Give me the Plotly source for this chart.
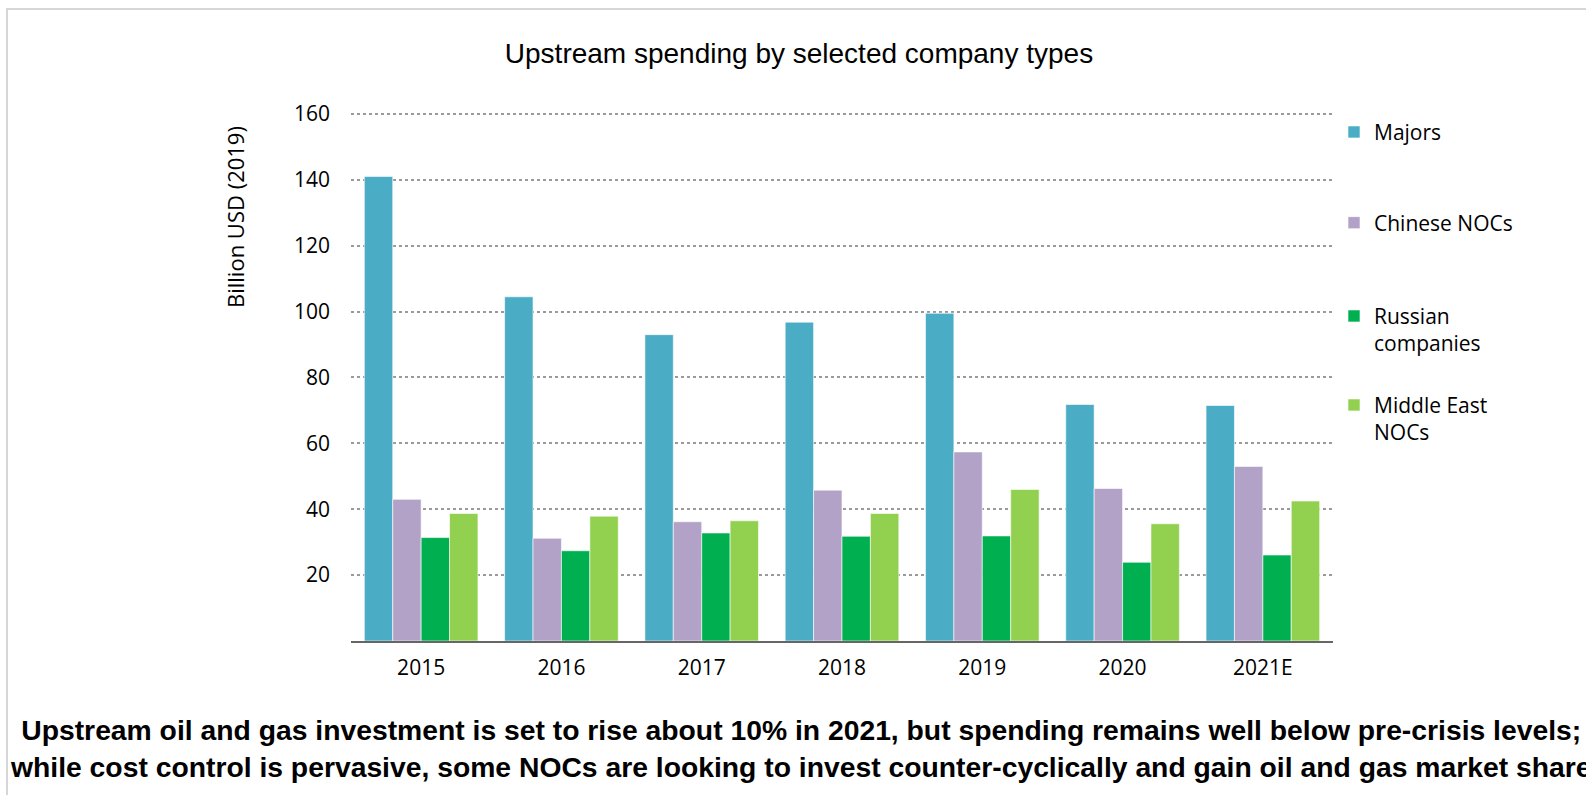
import plotly.graph_objects as go

years = ["2015", "2016", "2017", "2018", "2019", "2020", "2021E"]
majors = [141, 104.5, 93, 96.8, 99.5, 71.8, 71.5]
chinese_nocs = [43, 31.2, 36.2, 45.8, 57.4, 46.3, 53]
russian_cos = [31.4, 27.4, 32.8, 31.8, 31.9, 23.9, 26.1]
me_nocs = [38.7, 37.9, 36.5, 38.7, 46, 35.6, 42.5]

series_names = ["Majors", "Chinese NOCs", "Russian<br>companies", "Middle East<br>NOCs"]
series_values = [majors, chinese_nocs, russian_cos, me_nocs]
colors = ["#4BACC6", "#B2A2C7", "#00B050", "#92D050"]
legend_ids = ["legend", "legend2", "legend3", "legend4"]
legend_top_px = [111.8, 202.5, 295.8, 384.8]

W, H = 1586, 795
L, R, T, B = 351, 1333, 112, 641
pw, ph = R - L, B - T

def px_x(x):
    return (x - L) / pw

def px_y(y):
    return (B - y) / ph

fig = go.Figure()
for name, vals, col, lid in zip(series_names, series_values, colors, legend_ids):
    fig.add_trace(go.Bar(
        x=years, y=vals, name=name, legend=lid,
        marker=dict(color=col, line=dict(color="rgba(255,255,255,0.6)", width=1)),
    ))

tick_font = dict(family="Open Sans, Lato, sans-serif", size=21, color="#000000")
layout_extra = {}
for lid, ly in zip(legend_ids, legend_top_px):
    layout_extra[lid] = dict(
        x=px_x(1334), y=px_y(ly), xanchor="left", yanchor="top", valign="top",
        bgcolor="rgba(0,0,0,0)", font=tick_font, itemwidth=30,
        itemclick=False, itemdoubleclick=False,
    )

fig.update_layout(
    width=W, height=H,
    margin=dict(l=L, r=W - R, t=T, b=H - B, pad=0),
    paper_bgcolor="white", plot_bgcolor="white",
    barmode="group", bargap=0.19, bargroupgap=0,
    showlegend=True,
    title=dict(
        text="Upstream spending by selected company types",
        font=dict(family="Liberation Sans, Arial, sans-serif", size=28, color="#000000"),
        x=799 / W, xanchor="center", y=1 - 53 / H, yanchor="middle",
    ),
    xaxis=dict(
        type="category", showgrid=False, showline=True, linecolor="#666666", linewidth=2,
        ticks="", tickfont=tick_font, zeroline=False, ticklabelstandoff=7,
    ),
    yaxis=dict(
        range=[0, 160.6], tickvals=[20, 40, 60, 80, 100, 120, 140, 160],
        showgrid=True, gridcolor="#9a9a9a", griddash="dot", gridwidth=1.5,
        showline=False, zeroline=False, ticks="", tickfont=tick_font,
        ticklabelstandoff=20,
    ),
    annotations=[
        dict(
            text="Billion USD (2019)", textangle=-90,
            x=px_x(235), y=px_y(217), xref="paper", yref="paper",
            xanchor="center", yanchor="middle", showarrow=False,
            font=dict(family="Open Sans, Lato, sans-serif", size=22, color="#000000"),
        ),
        dict(
            text="<b>Upstream oil and gas investment is set to rise about 10% in 2021, but spending remains well below pre-crisis levels;<br>"
                 "while cost control is pervasive, some NOCs are looking to invest counter-cyclically and gain oil and gas market share</b>",
            x=px_x(800), y=px_y(748.5), xref="paper", yref="paper",
            xanchor="center", yanchor="middle", showarrow=False, align="center",
            font=dict(family="Liberation Sans, Arial, sans-serif", size=28.3, color="#000000"),
        ),
    ],
    shapes=[
        dict(type="rect", xref="paper", yref="paper",
             x0=px_x(7), x1=px_x(1700), y0=px_y(9), y1=px_y(900),
             line=dict(color="#d6d6d6", width=2), layer="below"),
    ],
    **layout_extra,
)

fig.write_html(
    "out.html",
    config={"displayModeBar": False},
    post_script="document.body.style.margin='0';document.body.style.overflow='hidden';",
)
